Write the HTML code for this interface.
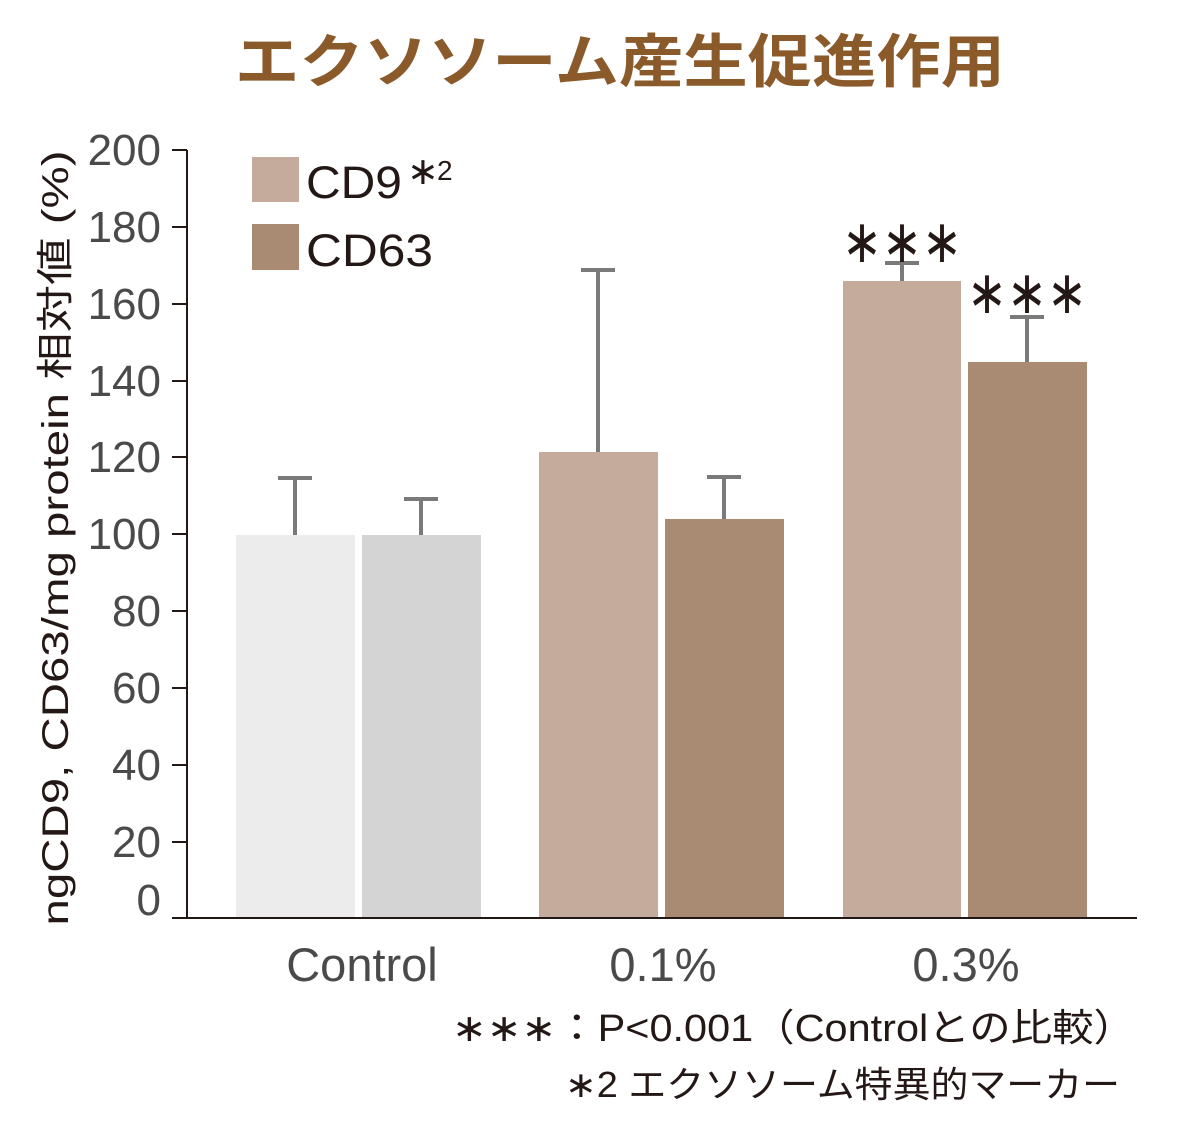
<!DOCTYPE html>
<html><head><meta charset="utf-8"><style>
body{margin:0;background:#fff}
svg{display:block}
text{font-family:"Liberation Sans","Noto Sans CJK JP",sans-serif}
</style></head><body>
<svg width="1200" height="1140" viewBox="0 0 1200 1140">
<text x="620" y="82" text-anchor="middle" font-size="58" font-weight="bold" fill="#8a5a2b" textLength="770" lengthAdjust="spacingAndGlyphs" style="font-family:'Noto Sans CJK JP',sans-serif">エクソソーム産生促進作用</text>
<rect x="236" y="535" width="119" height="383" fill="#ececec"/>
<rect x="362" y="535" width="119" height="383" fill="#d4d4d4"/>
<rect x="539" y="452" width="119" height="466" fill="#c5ab9b"/>
<rect x="665" y="519" width="119" height="399" fill="#a98a73"/>
<rect x="843" y="281" width="118" height="637" fill="#c5ab9b"/>
<rect x="968" y="362" width="119" height="556" fill="#a98a73"/>
<g stroke="#7a7a7a" stroke-width="4" fill="none">
<path d="M295 535V478M278 478H312"/>
<path d="M421 535V499M404 499H438"/>
<path d="M598 452V270M581 270H615"/>
<path d="M724 519V477M707 477H741"/>
<path d="M902 281V263M885 263H919"/>
<path d="M1027 362V317M1010 317H1044"/>
</g>
<g stroke="#231815" stroke-width="2" fill="none">
<path d="M187 150V918H1137"/>
<path d="M172 150H187M172 227H187M172 304H187M172 381H187M172 457H187M172 534H187M172 611H187M172 688H187M172 765H187M172 842H187M172 918H187"/>
</g>
<g font-size="44" fill="#4a4a4a" text-anchor="end">
<text x="161" y="165">200</text><text x="161" y="242">180</text><text x="161" y="319">160</text>
<text x="161" y="396">140</text><text x="161" y="472">120</text><text x="161" y="549">100</text>
<text x="161" y="626">80</text><text x="161" y="703">60</text><text x="161" y="780">40</text>
<text x="161" y="857">20</text><text x="161" y="915">0</text>
</g>
<g font-size="47" fill="#4a4a4a" text-anchor="middle">
<text x="362" y="981">Control</text><text x="663" y="981">0.1%</text><text x="966" y="981">0.3%</text>
</g>
<text transform="translate(68,538) rotate(-90)" text-anchor="middle" font-size="37" fill="#231815" textLength="775" lengthAdjust="spacingAndGlyphs">ngCD9, CD63/mg protein 相対値 (%)</text>
<rect x="252" y="157" width="47" height="45" fill="#c5ab9b"/>
<rect x="252" y="224" width="47" height="46" fill="#a98a73"/>
<text x="306" y="198" font-size="45" fill="#231815" textLength="96" lengthAdjust="spacingAndGlyphs">CD9</text>
<text x="407" y="184" font-size="38" fill="#231815">∗</text>
<text x="437" y="180" font-size="28" fill="#231815">2</text>
<text x="306" y="266" font-size="45" fill="#231815" textLength="127" lengthAdjust="spacingAndGlyphs">CD63</text>
<text x="902" y="262" font-size="60" fill="#231815" text-anchor="middle" textLength="120" lengthAdjust="spacingAndGlyphs">∗∗∗</text>
<text x="1027" y="313" font-size="60" fill="#231815" text-anchor="middle" textLength="120" lengthAdjust="spacingAndGlyphs">∗∗∗</text>
<text x="452" y="1041" font-size="38" fill="#231815" textLength="683" lengthAdjust="spacingAndGlyphs">∗∗∗：P&lt;0.001（Controlとの比較）</text>
<text x="565" y="1097" font-size="36" fill="#231815" textLength="555" lengthAdjust="spacingAndGlyphs">∗2 エクソソーム特異的マーカー</text>
</svg>
</body></html>
